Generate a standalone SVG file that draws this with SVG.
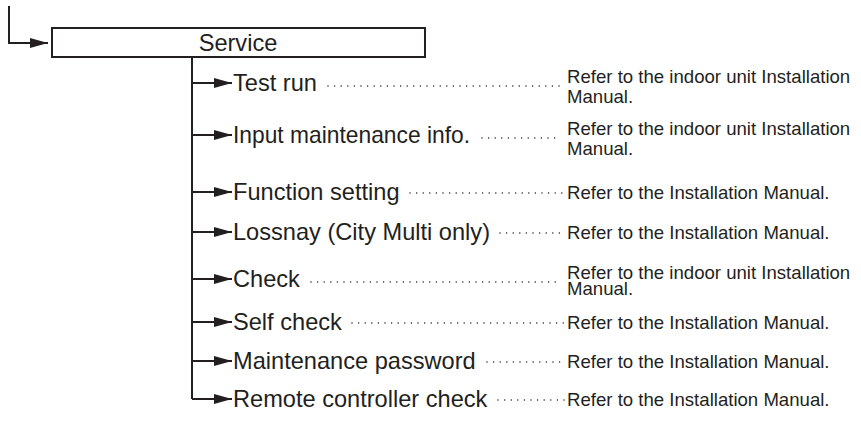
<svg xmlns="http://www.w3.org/2000/svg" width="861" height="424" viewBox="0 0 861 424">
<defs>
<style>
.ln{fill:none;stroke:#231f20;stroke-width:2}
.dot{fill:none;stroke:#231f20;stroke-width:1.5;stroke-linecap:round;stroke-dasharray:0 6.6}
.main{font-family:"Liberation Sans",Arial,sans-serif;font-size:23.6px;fill:#231f20}
.ref{font-family:"Liberation Sans",Arial,sans-serif;font-size:18.6px;fill:#231f20}
</style>
<marker id="ah" viewBox="0 0 18 10" refX="18" refY="5" markerWidth="18" markerHeight="10" markerUnits="userSpaceOnUse" orient="auto">
<path d="M0,0 L18,5 L0,10 Z" fill="#231f20"/>
</marker>
</defs>
<rect width="861" height="424" fill="#fff"/>
<g id="connectors">
<path class="ln" d="M9,6 V43 H48" marker-end="url(#ah)"/>
<path class="ln" d="M192,57 V399"/>
<path class="ln" d="M192,83 H232" marker-end="url(#ah)"/>
<path class="ln" d="M192,135 H232" marker-end="url(#ah)"/>
<path class="ln" d="M192,192 H232" marker-end="url(#ah)"/>
<path class="ln" d="M192,232 H232" marker-end="url(#ah)"/>
<path class="ln" d="M192,279 H232" marker-end="url(#ah)"/>
<path class="ln" d="M192,322 H232" marker-end="url(#ah)"/>
<path class="ln" d="M192,361 H232" marker-end="url(#ah)"/>
<path class="ln" d="M192,399 H232" marker-end="url(#ah)"/>
<path class="dot" d="M328,86 H561"/>
<path class="dot" d="M482,138 H561"/>
<path class="dot" d="M410,193 H564"/>
<path class="dot" d="M500,233 H564"/>
<path class="dot" d="M311,282 H561"/>
<path class="dot" d="M352,323 H564"/>
<path class="dot" d="M487,362 H564"/>
<path class="dot" d="M498,400 H564"/>
</g>
<g id="service">
<rect class="ln" x="52" y="28" width="373" height="29"/>
<text class="main" x="238" y="51" text-anchor="middle">Service</text>
</g>
<g id="test-run">
<text class="main" x="233" y="91" textLength="84" lengthAdjust="spacingAndGlyphs">Test run</text>
<text class="ref" x="567" y="83">Refer to the indoor unit Installation</text>
<text class="ref" x="567" y="103">Manual.</text>
</g>
<g id="input-maintenance">
<text class="main" x="233" y="143" textLength="237" lengthAdjust="spacingAndGlyphs">Input maintenance info.</text>
<text class="ref" x="567" y="135">Refer to the indoor unit Installation</text>
<text class="ref" x="567" y="155">Manual.</text>
</g>
<g id="function-setting">
<text class="main" x="233" y="200">Function setting</text>
<text class="ref" x="567" y="199">Refer to the Installation Manual.</text>
</g>
<g id="lossnay">
<text class="main" x="233" y="240">Lossnay (City Multi only)</text>
<text class="ref" x="567" y="239">Refer to the Installation Manual.</text>
</g>
<g id="check">
<text class="main" x="233" y="287">Check</text>
<text class="ref" x="567" y="279">Refer to the indoor unit Installation</text>
<text class="ref" x="567" y="295">Manual.</text>
</g>
<g id="self-check">
<text class="main" x="233" y="330">Self check</text>
<text class="ref" x="567" y="329">Refer to the Installation Manual.</text>
</g>
<g id="maintenance-password">
<text class="main" x="233" y="369">Maintenance password</text>
<text class="ref" x="567" y="368">Refer to the Installation Manual.</text>
</g>
<g id="remote-check">
<text class="main" x="233" y="407">Remote controller check</text>
<text class="ref" x="567" y="406">Refer to the Installation Manual.</text>
</g>
</svg>
